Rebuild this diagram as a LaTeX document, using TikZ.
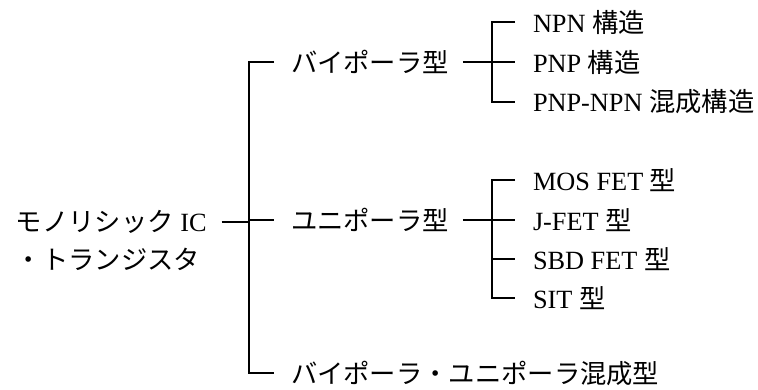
\documentclass[tikz,border=0pt]{standalone}
\usepackage{fontspec}
\setmainfont{Liberation Serif}
\newfontfamily\cjk{Noto Sans CJK JP}
\begin{document}
\begin{tikzpicture}[x=1pt,y=-1pt,line width=2pt,
  lbl/.style={anchor=west,inner sep=0pt,font=\fontsize{26.3}{30}\selectfont}]
\useasboundingbox (0,0) rectangle (758,390);
% root
\node[lbl] (r1) at (15,222) {\cjk モノリシック\normalfont\ IC};
\node[lbl] (r2) at (15,259) {\cjk ・トランジスタ};
% level 2
\node[lbl] (bi)  at (290,62)  {\cjk バイポーラ型};
\node[lbl] (uni) at (290,220) {\cjk ユニポーラ型};
\node[lbl] (mix) at (290,373) {\cjk バイポーラ・ユニポーラ混成型};
% level 3 bipolar
\node[lbl] (b1) at (532,22)  {NPN {\cjk 構造}};
\node[lbl] (b2) at (532,62)  {PNP {\cjk 構造}};
\node[lbl] (b3) at (532,102) {PNP-NPN {\cjk 混成構造}};
% level 3 unipolar
\node[lbl] (u1) at (532,180) {MOS FET {\cjk 型}};
\node[lbl] (u2) at (532,220) {J-FET {\cjk 型}};
\node[lbl] (u3) at (532,259) {SBD FET {\cjk 型}};
\node[lbl] (u4) at (532,298) {SIT {\cjk 型}};
% trunk coordinates
\coordinate (ta) at (249,62);
\coordinate (tb) at (249,222);
\coordinate (tc) at (249,373);
\coordinate (ba) at (492,22);
\coordinate (bb) at (492,62);
\coordinate (bc) at (492,102);
\coordinate (ua) at (492,180);
\coordinate (ub) at (492,220);
\coordinate (ud) at (492,298);
% connectors
\draw ([xshift=-16pt]bi.west) -- (ta) -- (tc) -- ([xshift=-16pt]mix.west);
\draw ([xshift=14pt]r1.east) -- (tb);
\draw (tb |- uni.west) -- ([xshift=-16pt]uni.west);
\draw ([xshift=13pt]bi.east) -- (bb);
\draw ([xshift=-17pt]b1.west) -- (ba) -- (bc) -- ([xshift=-17pt]b3.west);
\draw (bb) -- ([xshift=-17pt]b2.west);
\draw ([xshift=13pt]uni.east) -- (ub);
\draw ([xshift=-17pt]u1.west) -- (ua) -- (ud) -- ([xshift=-17pt]u4.west);
\draw (ub) -- ([xshift=-17pt]u2.west);
\draw (ub |- u3.west) -- ([xshift=-17pt]u3.west);
\end{tikzpicture}
\end{document}
